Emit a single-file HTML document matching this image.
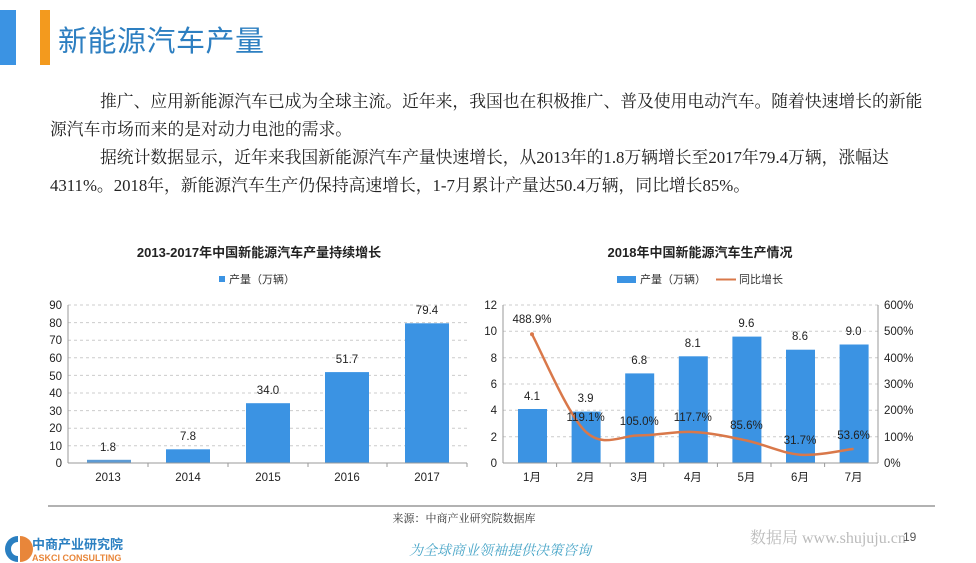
<!DOCTYPE html>
<html><head><meta charset="utf-8"><style>
body{margin:0;width:976px;height:563px;background:#fff;overflow:hidden;position:relative;font-family:"Liberation Sans","Noto Sans CJK SC",sans-serif}
.p{position:absolute;font-family:"Liberation Serif","Noto Serif CJK SC",serif;font-size:16.8px;color:#222;white-space:nowrap}
</style></head><body>
<div style="position:absolute;left:0;top:10px;width:16px;height:55px;background:#3b93e3"></div>
<div style="position:absolute;left:40px;top:10px;width:10px;height:55px;background:#f39a1e"></div>
<div style="position:absolute;left:58px;top:18px;font-size:29px;color:#2d7fc1;font-family:'Liberation Sans','Noto Sans CJK SC',sans-serif;letter-spacing:0.5px">新能源汽车产量</div>
<div class="p" style="left:100px;top:88px">推广、应用新能源汽车已成为全球主流。近年来，我国也在积极推广、普及使用电动汽车。随着快速增长的新能</div>
<div class="p" style="left:50px;top:116px">源汽车市场而来的是对动力电池的需求。</div>
<div class="p" style="left:100px;top:144px">据统计数据显示，近年来我国新能源汽车产量快速增长，从2013年的1.8万辆增长至2017年79.4万辆，涨幅达</div>
<div class="p" style="left:50px;top:172px">4311%。2018年，新能源汽车生产仍保持高速增长，1-7月累计产量达50.4万辆，同比增长85%。</div>
<svg width="976" height="563" style="position:absolute;left:0;top:0" font-family="Liberation Sans,Noto Sans CJK SC,sans-serif">
<text x="259" y="257" font-size="13" font-weight="bold" text-anchor="middle" fill="#222">2013-2017年中国新能源汽车产量持续增长</text>
<rect x="219" y="276" width="6" height="6" fill="#3b93e3"/>
<text x="229" y="283" font-size="11" fill="#333">产量（万辆）</text>
<g stroke="#ccc" stroke-dasharray="3,3">
<line x1="68" x2="467" y1="305" y2="305"/><line x1="68" x2="467" y1="322.6" y2="322.6"/><line x1="68" x2="467" y1="340.2" y2="340.2"/><line x1="68" x2="467" y1="357.8" y2="357.8"/><line x1="68" x2="467" y1="375.4" y2="375.4"/><line x1="68" x2="467" y1="393" y2="393"/><line x1="68" x2="467" y1="410.6" y2="410.6"/><line x1="68" x2="467" y1="428.2" y2="428.2"/><line x1="68" x2="467" y1="445.8" y2="445.8"/>
</g>
<g fill="#3b93e3">
<rect x="87" y="459.8" width="44" height="3.2" fill="#5d9bd4"/>
<rect x="166" y="449.3" width="44" height="13.7"/>
<rect x="246" y="403.2" width="44" height="59.8"/>
<rect x="325" y="372.1" width="44" height="90.9"/>
<rect x="405" y="323.3" width="44" height="139.7"/>
</g>
<g stroke="#999"><line x1="68" x2="68" y1="305" y2="463"/><line x1="68" x2="467" y1="463" y2="463"/>
<line x1="148" x2="148" y1="463" y2="467"/><line x1="228" x2="228" y1="463" y2="467"/><line x1="308" x2="308" y1="463" y2="467"/><line x1="387" x2="387" y1="463" y2="467"/><line x1="467" x2="467" y1="463" y2="467"/></g>
<g font-size="11.5" fill="#222" text-anchor="end">
<text x="62" y="309">90</text><text x="62" y="327">80</text><text x="62" y="344">70</text><text x="62" y="362">60</text><text x="62" y="380">50</text><text x="62" y="397">40</text><text x="62" y="415">30</text><text x="62" y="432">20</text><text x="62" y="450">10</text><text x="62" y="467">0</text></g>
<g font-size="11.5" fill="#222" text-anchor="middle">
<text x="108" y="481">2013</text><text x="188" y="481">2014</text><text x="268" y="481">2015</text><text x="347" y="481">2016</text><text x="427" y="481">2017</text>
<text x="108" y="451">1.8</text><text x="188" y="440">7.8</text><text x="268" y="394">34.0</text><text x="347" y="363">51.7</text><text x="427" y="314">79.4</text></g>

<text x="700" y="257" font-size="13" font-weight="bold" text-anchor="middle" fill="#222">2018年中国新能源汽车生产情况</text>
<rect x="617" y="276" width="19" height="7" fill="#3b93e3"/>
<text x="640" y="283" font-size="11" fill="#333">产量（万辆）</text>
<line x1="716" x2="736" y1="279.5" y2="279.5" stroke="#d9784a" stroke-width="2"/>
<text x="739" y="283" font-size="11" fill="#333">同比增长</text>
<g stroke="#ccc" stroke-dasharray="3,3">
<line x1="503" x2="878" y1="305" y2="305"/><line x1="503" x2="878" y1="331.3" y2="331.3"/><line x1="503" x2="878" y1="357.7" y2="357.7"/><line x1="503" x2="878" y1="384" y2="384"/><line x1="503" x2="878" y1="410.3" y2="410.3"/><line x1="503" x2="878" y1="436.7" y2="436.7"/></g>
<g fill="#3b93e3">
<rect x="518" y="409" width="29" height="54"/>
<rect x="571.6" y="411.6" width="29" height="51.4"/>
<rect x="625.2" y="373.4" width="29" height="89.6"/>
<rect x="678.8" y="356.3" width="29" height="106.7"/>
<rect x="732.4" y="336.6" width="29" height="126.4"/>
<rect x="786" y="349.7" width="29" height="113.3"/>
<rect x="839.6" y="344.5" width="29" height="118.5"/></g>
<path id="ln" fill="none" stroke="#d9784a" stroke-width="2.5" stroke-linejoin="round"/>
<g fill="#d9784a"><circle cx="532" cy="334.3" r="2"/></g>
<g stroke="#999"><line x1="503" x2="503" y1="305" y2="463"/><line x1="878" x2="878" y1="305" y2="463"/><line x1="503" x2="878" y1="463" y2="463"/>
<line x1="556.6" x2="556.6" y1="463" y2="467"/><line x1="610.2" x2="610.2" y1="463" y2="467"/><line x1="663.8" x2="663.8" y1="463" y2="467"/><line x1="717.4" x2="717.4" y1="463" y2="467"/><line x1="771" x2="771" y1="463" y2="467"/><line x1="824.6" x2="824.6" y1="463" y2="467"/></g>
<g font-size="11.5" fill="#222" text-anchor="end">
<text x="497" y="309">12</text><text x="497" y="335">10</text><text x="497" y="362">8</text><text x="497" y="388">6</text><text x="497" y="414">4</text><text x="497" y="441">2</text><text x="497" y="467">0</text></g>
<g font-size="11.5" fill="#222">
<text x="884" y="309">600%</text><text x="884" y="335">500%</text><text x="884" y="362">400%</text><text x="884" y="388">300%</text><text x="884" y="414">200%</text><text x="884" y="441">100%</text><text x="884" y="467">0%</text></g>
<g font-size="11.5" fill="#222" text-anchor="middle">
<text x="532" y="481">1月</text><text x="585.6" y="481">2月</text><text x="639.2" y="481">3月</text><text x="692.8" y="481">4月</text><text x="746.4" y="481">5月</text><text x="800" y="481">6月</text><text x="853.6" y="481">7月</text>
<text x="532" y="400">4.1</text><text x="585.6" y="402">3.9</text><text x="639.2" y="364">6.8</text><text x="692.8" y="347">8.1</text><text x="746.4" y="327">9.6</text><text x="800" y="340">8.6</text><text x="853.6" y="335">9.0</text>
<text x="532" y="323">488.9%</text><text x="585.6" y="421">119.1%</text><text x="639.2" y="425">105.0%</text><text x="692.8" y="421">117.7%</text><text x="746.4" y="429">85.6%</text><text x="800" y="444">31.7%</text><text x="853.6" y="439">53.6%</text></g>

<line x1="48" x2="935" y1="506" y2="506" stroke="#666" stroke-width="1"/>
<text x="464" y="522" font-size="11" fill="#333" text-anchor="middle" font-family="Liberation Serif,Noto Serif CJK SC,serif">来源：中商产业研究院数据库</text>
<text x="500" y="555" font-size="14" fill="#4aa6c8" text-anchor="middle" font-style="italic" font-family="Liberation Serif,Noto Serif CJK SC,serif">为全球商业领袖提供决策咨询</text>
<text x="750" y="543" font-size="16" fill="#bbb" font-family="Liberation Serif,Noto Serif CJK SC,serif">数据局 www.shujuju.cn</text>
<text x="903" y="541" font-size="12" fill="#555">19</text>
<path d="M18 536 A13 13 0 0 0 18 562 L18 556 A7 7 0 0 1 18 542 Z" fill="#2a7fc1"/>
<path d="M20 536 A13 13 0 0 1 20 562 Z" fill="#e8863a"/>
<text x="32" y="549" font-size="13" font-weight="bold" fill="#2a7fc1">中商产业研究院</text>
<text x="32" y="561" font-size="9" font-weight="bold" fill="#e8863a">ASKCI CONSULTING</text>
</svg>
<script>
var p=[[532,334.3],[585.6,431.6],[639.2,435.4],[692.8,432],[746.4,440.5],[800,454.7],[853.6,448.9]];
var d="M"+p[0];for(var i=0;i<p.length-1;i++){var a=p[i-1]||p[i],b=p[i],c=p[i+1],e=p[i+2]||c;
d+=" C"+(b[0]+(c[0]-a[0])/6)+","+(b[1]+(c[1]-a[1])/6)+" "+(c[0]-(e[0]-b[0])/6)+","+(c[1]-(e[1]-b[1])/6)+" "+c[0]+","+c[1];}
document.getElementById("ln").setAttribute("d",d);
</script>
</body></html>
